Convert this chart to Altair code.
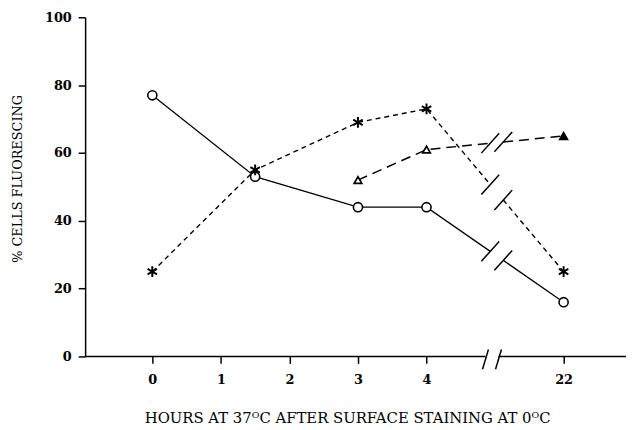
import altair as alt
import pandas as pd

# ---- data ----
hours = [0, 1.5, 3, 4, 22]
circle_vals = [77, 53, 44, 44, 16]
star_vals = [25, 55, 69, 73, 25]
tri_hours = [3, 4, 22]
tri_vals = [52, 61, 65]
tri_kind = ["open", "open", "filled"]

tick_pos = [0, 1, 2, 3, 4, 6]
tick_labels = ["0", "1", "2", "3", "4", "22"]
y_ticks = [0, 20, 40, 60, 80, 100]

X_TITLE = "HOURS AT 37\u1D3CC AFTER SURFACE STAINING AT 0\u1D3CC"
Y_TITLE = "% CELLS FLUORESCING"

# broken axis: hour 22 drawn at axis position 6
pos_of = dict(zip([float(l) for l in tick_labels], tick_pos))
def to_pos(h):
    return pos_of.get(float(h), h)

X_DOMAIN = [-0.98, 6.91]
LINE_BREAK = (4.93, 5.12)
AXIS_BREAK = (4.86, 5.05)

FONT = "DejaVu Serif"


def interp(p, p0, v0, p1, v1):
    return v0 + (v1 - v0) * (p - p0) / (p1 - p0)


def line_rows(name, hs, vs):
    ps = [to_pos(h) for h in hs]
    rows, slashes = [], []
    seg = 0
    for i, (p, v) in enumerate(zip(ps, vs)):
        if i > 0 and ps[i - 1] < LINE_BREAK[0] and p > LINE_BREAK[1]:
            p0, v0 = ps[i - 1], vs[i - 1]
            va = interp(LINE_BREAK[0], p0, v0, p, v)
            vb = interp(LINE_BREAK[1], p0, v0, p, v)
            rows.append(dict(series=name, seg=seg, pos=LINE_BREAK[0], val=va))
            seg += 1
            rows.append(dict(series=name, seg=seg, pos=LINE_BREAK[1], val=vb))
            slashes.append(dict(series=name, pos=LINE_BREAK[0], val=va))
            slashes.append(dict(series=name, pos=LINE_BREAK[1], val=vb))
        rows.append(dict(series=name, seg=seg, pos=p, val=v))
    return rows, slashes


c_rows, c_sl = line_rows("circle", hours, circle_vals)
s_rows, s_sl = line_rows("star", hours, star_vals)
t_rows, t_sl = line_rows("tri", tri_hours, tri_vals)

circle_df = pd.DataFrame(c_rows)
star_df = pd.DataFrame(s_rows)
tri_df = pd.DataFrame(t_rows)
slash_df = pd.DataFrame(c_sl + s_sl + t_sl)

circle_pts = pd.DataFrame({"pos": [to_pos(h) for h in hours], "val": circle_vals})
star_pts = pd.DataFrame({"pos": [to_pos(h) for h in hours], "val": star_vals})
tri_pts = pd.DataFrame({"pos": [to_pos(h) for h in tri_hours], "val": tri_vals, "kind": tri_kind})

axis_seg = pd.DataFrame({"x": [X_DOMAIN[0], AXIS_BREAK[1]], "x2": [AXIS_BREAK[0], X_DOMAIN[1]], "y": [0, 0]})
axis_sl = pd.DataFrame({"pos": list(AXIS_BREAK), "val": [0, 0]})

label_expr = "".join(f"datum.value == {p} ? '{l}' : " for p, l in zip(tick_pos, tick_labels)) + "''"

xscale = alt.Scale(domain=X_DOMAIN, nice=False, zero=False)
yscale = alt.Scale(domain=[0, 100], nice=False)

x_enc = alt.X(
    "pos:Q",
    scale=xscale,
    axis=alt.Axis(
        values=tick_pos, labelExpr=label_expr, domain=False, grid=False,
        tickSize=7, tickWidth=1.5, tickColor="black",
        labelFont=FONT, labelFontSize=13, labelFontWeight="bold", labelColor="black",
        labelPadding=10,
        title=X_TITLE, titleFont=FONT, titleFontSize=15, titleFontWeight="normal",
        titleColor="black", titleX=265, titleY=62, titleBaseline="middle", titleAlign="center",
    ),
)
y_enc = alt.Y(
    "val:Q",
    scale=yscale,
    axis=alt.Axis(
        values=y_ticks, grid=False, domainColor="black", domainWidth=1.5,
        tickSize=7, tickWidth=1.5, tickColor="black",
        labelFont=FONT, labelFontSize=13, labelFontWeight="bold", labelColor="black",
        labelPadding=7,
        title=Y_TITLE, titleFont=FONT, titleFontSize=13, titleFontWeight="normal",
        titleColor="black", titleX=-68, titleY=163, titleBaseline="middle",
        titleAlign="center", titleAngle=270,
    ),
)

ASTERISK = "M0,-1L0,1M-0.87,-0.5L0.87,0.5M-0.87,0.5L0.87,-0.5"
SLASH = "M-0.9,1L0.9,-1"
AXIS_SLASH = "M-0.3,1L0.3,-1"

base_x = alt.X("pos:Q", scale=xscale)
base_y = alt.Y("val:Q", scale=yscale)

axis_line = alt.Chart(axis_seg).mark_rule(color="black", strokeWidth=1.5).encode(
    x=alt.X("x:Q", scale=xscale), x2="x2:Q", y=alt.Y("y:Q", scale=yscale)
)
axis_slash = alt.Chart(axis_sl).mark_point(
    shape=AXIS_SLASH, size=400, filled=False, stroke="black", strokeWidth=1.5, opacity=1
).encode(x=base_x, y=base_y, yOffset=alt.value(3))

circle_line = alt.Chart(circle_df).mark_line(color="black", strokeWidth=1.3).encode(
    x=x_enc, y=y_enc, detail="seg:N", order="pos:Q"
)
star_line = alt.Chart(star_df).mark_line(color="black", strokeWidth=1.4, strokeDash=[5, 4]).encode(
    x=base_x, y=base_y, detail="seg:N", order="pos:Q"
)
tri_line = alt.Chart(tri_df).mark_line(color="black", strokeWidth=1.5, strokeDash=[10, 6]).encode(
    x=base_x, y=base_y, detail="seg:N", order="pos:Q"
)
slashes = alt.Chart(slash_df).mark_point(
    shape=SLASH, size=400, filled=False, stroke="black", strokeWidth=1.5, opacity=1
).encode(x=base_x, y=base_y)

circle_mk = alt.Chart(circle_pts).mark_point(
    shape="circle", size=85, filled=True, fill="white", stroke="black", strokeWidth=1.6, opacity=1
).encode(x=base_x, y=base_y)
star_mk = alt.Chart(star_pts).mark_point(
    shape=ASTERISK, size=120, filled=False, stroke="black", strokeWidth=2, opacity=1
).encode(x=base_x, y=base_y)
tri_mk = alt.Chart(tri_pts).mark_point(
    shape="triangle-up", size=60, filled=True, stroke="black", strokeWidth=1.7, opacity=1
).encode(
    x=base_x, y=base_y,
    fill=alt.Fill("kind:N", scale=alt.Scale(domain=["open", "filled"], range=["white", "black"]), legend=None),
)

chart = alt.layer(
    circle_line, star_line, tri_line, slashes, axis_line, axis_slash, circle_mk, star_mk, tri_mk
).properties(
    width=547, height=343,
    autosize=alt.AutoSizeParams(type="none"),
    padding={"left": 78, "top": 7, "right": 0, "bottom": 70},
    background="white",
).configure_view(stroke=None)

chart.save("out.html", embed_options={"renderer": "svg", "actions": False})
